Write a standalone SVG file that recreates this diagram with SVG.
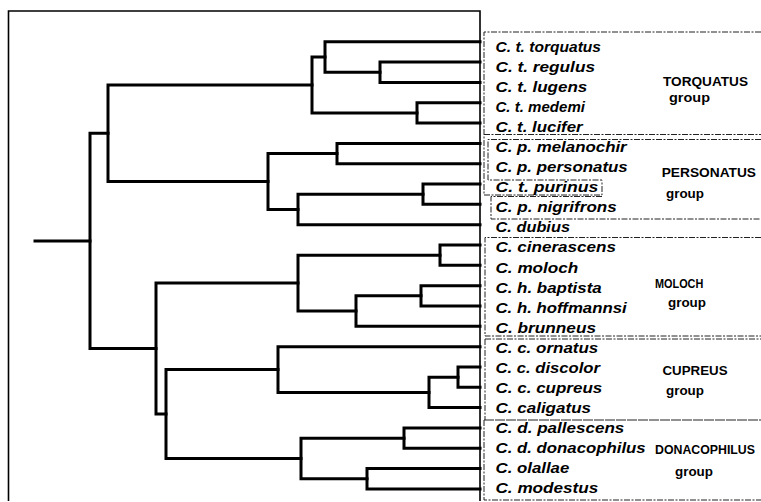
<svg xmlns="http://www.w3.org/2000/svg" width="761" height="502" viewBox="0 0 761 502">
<style>
.tree{fill:none;stroke:#000;stroke-width:3;stroke-linecap:square;stroke-linejoin:miter}
.frame{fill:none;stroke:#000;stroke-width:1.6}
.dash{fill:none;stroke:#222;stroke-width:1;stroke-dasharray:6 1.5 2 1.5}
.sp{font-family:"Liberation Sans",Arial,sans-serif;font-weight:bold;font-style:italic;font-size:15.5px;fill:#000}
.grp{font-family:"Liberation Sans",Arial,sans-serif;font-weight:bold;font-size:13.5px;fill:#000}
</style>
<rect x="0" y="0" width="761" height="502" fill="#fff"/>
<g id="frame">
<path class="frame" d="M8.5,501 V11 H480 V501"/>
</g>
<g id="connectors">
<path class="tree" d="M35,240.9 H90"/>
<path class="tree" d="M108,133.2 H90 V348.6 H156"/>
<path class="tree" d="M312,85 H108 V181.5 H268"/>
<path class="tree" d="M325,57 H312 V112.9 H417"/>
<path class="tree" d="M480,41.7 H325 V72.2 H380"/>
<path class="tree" d="M480,62 H380 V82.4 H480"/>
<path class="tree" d="M480,102.7 H417 V123 H480"/>
<path class="tree" d="M337,153.5 H268 V209.4 H298"/>
<path class="tree" d="M480,143.4 H337 V163.7 H480"/>
<path class="tree" d="M423,194.2 H298 V224.7 H480"/>
<path class="tree" d="M480,184 H423 V204.3 H480"/>
<path class="tree" d="M298,283.1 H156 V414 H166"/>
<path class="tree" d="M440,255.2 H298 V311 H356"/>
<path class="tree" d="M480,245 H440 V265.3 H480"/>
<path class="tree" d="M421,295.8 H356 V326.3 H480"/>
<path class="tree" d="M480,285.7 H421 V306 H480"/>
<path class="tree" d="M278,369.5 H166 V458.5 H301"/>
<path class="tree" d="M480,346.7 H278 V392.4 H429"/>
<path class="tree" d="M458,377.2 H429 V407.6 H480"/>
<path class="tree" d="M480,367 H458 V387.3 H480"/>
<path class="tree" d="M404,438.2 H301 V478.8 H367"/>
<path class="tree" d="M480,428 H404 V448.3 H480"/>
<path class="tree" d="M480,468.6 H367 V489 H480"/>
</g>
<g id="group-boxes">
<path class="dash" d="M761,32 H484 V195 H602 V180.5"/>
<path class="dash" d="M484,134.5 H761"/>
<path class="dash" d="M761,139.5 H488 V180 H602"/>
<path class="dash" d="M602,196.5 H491 V219 H761"/>
<path class="dash" d="M761,237.5 H485 V336 H761"/>
<path class="dash" d="M485,339 H761"/>
<path class="dash" d="M485,339 V420"/>
<path class="dash" d="M484,420 H761" style="stroke-dasharray:10 1"/>
<path class="dash" d="M484,420 V500 H761"/>
</g>
<g id="leaf-torquatus"><text class="sp" x="495.5" y="51.7" textLength="105.5" lengthAdjust="spacingAndGlyphs">C. t. torquatus</text></g>
<g id="leaf-regulus"><text class="sp" x="495.5" y="71.8" textLength="99.5" lengthAdjust="spacingAndGlyphs">C. t. regulus</text></g>
<g id="leaf-lugens"><text class="sp" x="495.5" y="91.8" textLength="91.8" lengthAdjust="spacingAndGlyphs">C. t. lugens</text></g>
<g id="leaf-medemi"><text class="sp" x="495.5" y="111.9" textLength="89.5" lengthAdjust="spacingAndGlyphs">C. t. medemi</text></g>
<g id="leaf-lucifer"><text class="sp" x="495.5" y="132" textLength="87.2" lengthAdjust="spacingAndGlyphs">C. t. lucifer</text></g>
<g id="leaf-melanochir"><text class="sp" x="495.5" y="152.1" textLength="131.2" lengthAdjust="spacingAndGlyphs">C. p. melanochir</text></g>
<g id="leaf-personatus"><text class="sp" x="495.5" y="172.1" textLength="132.2" lengthAdjust="spacingAndGlyphs">C. p. personatus</text></g>
<g id="leaf-purinus"><text class="sp" x="495.5" y="192.2" textLength="102.8" lengthAdjust="spacingAndGlyphs">C. t. purinus</text></g>
<g id="leaf-nigrifrons"><text class="sp" x="495.5" y="212.3" textLength="121.2" lengthAdjust="spacingAndGlyphs">C. p. nigrifrons</text></g>
<g id="leaf-dubius"><text class="sp" x="495.5" y="232.3" textLength="74.5" lengthAdjust="spacingAndGlyphs">C. dubius</text></g>
<g id="leaf-cinerascens"><text class="sp" x="495.5" y="252.4" textLength="120.5" lengthAdjust="spacingAndGlyphs">C. cinerascens</text></g>
<g id="leaf-moloch"><text class="sp" x="495.5" y="272.5" textLength="82.8" lengthAdjust="spacingAndGlyphs">C. moloch</text></g>
<g id="leaf-baptista"><text class="sp" x="495.5" y="292.5" textLength="106.2" lengthAdjust="spacingAndGlyphs">C. h. baptista</text></g>
<g id="leaf-hoffmannsi"><text class="sp" x="495.5" y="312.6" textLength="131.2" lengthAdjust="spacingAndGlyphs">C. h. hoffmannsi</text></g>
<g id="leaf-brunneus"><text class="sp" x="495.5" y="332.7" textLength="100.5" lengthAdjust="spacingAndGlyphs">C. brunneus</text></g>
<g id="leaf-ornatus"><text class="sp" x="495.5" y="352.8" textLength="102.8" lengthAdjust="spacingAndGlyphs">C. c. ornatus</text></g>
<g id="leaf-discolor"><text class="sp" x="495.5" y="372.8" textLength="104.5" lengthAdjust="spacingAndGlyphs">C. c. discolor</text></g>
<g id="leaf-cupreus"><text class="sp" x="495.5" y="392.9" textLength="106.8" lengthAdjust="spacingAndGlyphs">C. c. cupreus</text></g>
<g id="leaf-caligatus"><text class="sp" x="495.5" y="413" textLength="95.5" lengthAdjust="spacingAndGlyphs">C. caligatus</text></g>
<g id="leaf-pallescens"><text class="sp" x="495.5" y="433" textLength="128.8" lengthAdjust="spacingAndGlyphs">C. d. pallescens</text></g>
<g id="leaf-donacophilus"><text class="sp" x="495.5" y="453.1" textLength="150.2" lengthAdjust="spacingAndGlyphs">C. d. donacophilus</text></g>
<g id="leaf-olallae"><text class="sp" x="495.5" y="473.2" textLength="73.8" lengthAdjust="spacingAndGlyphs">C. olallae</text></g>
<g id="leaf-modestus"><text class="sp" x="495.5" y="493.2" textLength="102.8" lengthAdjust="spacingAndGlyphs">C. modestus</text></g>
<g id="group-torquatus">
<text class="grp" x="663" y="85.7" textLength="85" lengthAdjust="spacingAndGlyphs">TORQUATUS</text>
<text class="grp" x="669" y="102" textLength="41" lengthAdjust="spacingAndGlyphs">group</text>
</g>
<g id="group-personatus">
<text class="grp" x="661.7" y="176.7" textLength="94.3" lengthAdjust="spacingAndGlyphs">PERSONATUS</text>
<text class="grp" x="666" y="198" textLength="38" lengthAdjust="spacingAndGlyphs">group</text>
</g>
<g id="group-moloch">
<text class="grp" x="655" y="288.3" style="font-size:13px" textLength="48.3" lengthAdjust="spacingAndGlyphs">MOLOCH</text>
<text class="grp" x="668" y="307" textLength="38" lengthAdjust="spacingAndGlyphs">group</text>
</g>
<g id="group-cupreus">
<text class="grp" x="662.5" y="374.5" textLength="65" lengthAdjust="spacingAndGlyphs">CUPREUS</text>
<text class="grp" x="666" y="395" textLength="38" lengthAdjust="spacingAndGlyphs">group</text>
</g>
<g id="group-donacophilus">
<text class="grp" x="655" y="453.5" style="font-size:12.5px" textLength="100" lengthAdjust="spacingAndGlyphs">DONACOPHILUS</text>
<text class="grp" x="675" y="476" textLength="38" lengthAdjust="spacingAndGlyphs">group</text>
</g>
</svg>
